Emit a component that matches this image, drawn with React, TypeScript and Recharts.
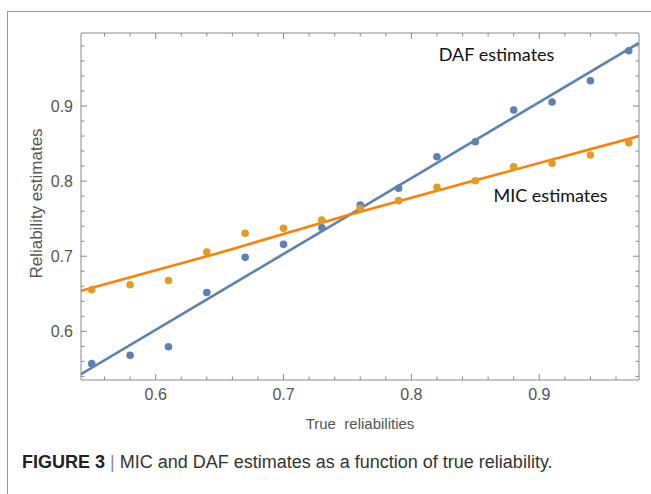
import React from "react";
import {
  ComposedChart,
  Scatter,
  Line,
  XAxis,
  YAxis,
  Label,
  ReferenceDot,
} from "recharts";

// true reliabilities (x) and the two sets of estimates
const trueReliability = [
  0.55, 0.58, 0.61, 0.64, 0.67, 0.7, 0.73, 0.76, 0.79, 0.82, 0.85, 0.88, 0.91,
  0.94, 0.97,
];
const dafEstimates = [
  0.557, 0.568, 0.5795, 0.6517, 0.6985, 0.7158, 0.738, 0.7682, 0.7904, 0.8325,
  0.8525, 0.8947, 0.9053, 0.9337, 0.9736,
];
const micEstimates = [
  0.6553, 0.662, 0.6677, 0.7054, 0.7305, 0.7371, 0.7482, 0.7638, 0.774, 0.7918,
  0.8005, 0.8192, 0.8237, 0.8348, 0.8511,
];

// fitted lines, read at a few x positions across the frame
const fitX = [0.5416, 0.65, 0.75, 0.85, 0.978];
const dafFit = [0.543, 0.6525, 0.7535, 0.8545, 0.984];
const micFit = [0.654, 0.7046, 0.7545, 0.801, 0.86];

const xTicks = [
  0.56, 0.58, 0.6, 0.62, 0.64, 0.66, 0.68, 0.7, 0.72, 0.74, 0.76, 0.78, 0.8,
  0.82, 0.84, 0.86, 0.88, 0.9, 0.92, 0.94, 0.96,
];
const yTicks = [
  0.54, 0.56, 0.58, 0.6, 0.62, 0.64, 0.66, 0.68, 0.7, 0.72, 0.74, 0.76, 0.78,
  0.8, 0.82, 0.84, 0.86, 0.88, 0.9, 0.92, 0.94, 0.96, 0.98,
];
const majorTicks = [0.6, 0.7, 0.8, 0.9];

const X_DOMAIN: [number, number] = [0.5416, 0.978];
const Y_DOMAIN: [number, number] = [0.5352, 0.9972];

const BLUE = "#5e81b5";
const ORANGE_PT = "#e19c24";
const ORANGE_LINE = "#ff8000";
const FRAME = "#8a8a8a";
const TICK_TEXT = "#555";
const TICK_FONT = "'Liberation Sans', Arial, sans-serif";

const dafPoints = trueReliability.map((x, i) => ({ x, y: dafEstimates[i] }));
const micPoints = trueReliability.map((x, i) => ({ x, y: micEstimates[i] }));
const dafLine = fitX.map((x, i) => ({ x, y: dafFit[i] }));
const micLine = fitX.map((x, i) => ({ x, y: micFit[i] }));

const isMajor = (v: number) => majorTicks.some((m) => Math.abs(m - v) < 1e-9);
const tickLen = (v: number) => (isMajor(v) ? 6 : 3.5);

const BottomTick = ({ x, y, payload }: any) => (
  <g>
    <line x1={x} x2={x} y1={y} y2={y - tickLen(payload.value)} stroke={FRAME} />
    {isMajor(payload.value) && (
      <text
        x={x}
        y={y + 20}
        textAnchor="middle"
        fill={TICK_TEXT}
        fontSize={16}
        fontFamily={TICK_FONT}
      >
        {payload.value}
      </text>
    )}
  </g>
);

const TopTick = ({ x, y, payload }: any) => (
  <line x1={x} x2={x} y1={y} y2={y + tickLen(payload.value)} stroke={FRAME} />
);

const LeftTick = ({ x, y, payload }: any) => (
  <g>
    <line x1={x} x2={x + tickLen(payload.value)} y1={y} y2={y} stroke={FRAME} />
    {isMajor(payload.value) && (
      <text
        x={x - 8}
        y={y + 5.5}
        textAnchor="end"
        fill={TICK_TEXT}
        fontSize={16}
        fontFamily={TICK_FONT}
      >
        {payload.value}
      </text>
    )}
  </g>
);

const RightTick = ({ x, y, payload }: any) => (
  <line x1={x} x2={x - tickLen(payload.value)} y1={y} y2={y} stroke={FRAME} />
);

const Dot = (color: string) => (p: any) =>
  <circle cx={p.cx} cy={p.cy} r={3.8} fill={color} />;

export default function App() {
  return (
    <div
      style={{
        position: "absolute",
        left: 0,
        top: 0,
        width: 651,
        height: 494,
        overflow: "hidden",
        background: "#fff",
      }}
    >
      <div
        style={{
          position: "absolute",
          left: 7,
          top: 11,
          width: 700,
          height: 600,
          border: "1px solid #999",
        }}
      />
      <div style={{ position: "absolute", left: 0, top: 0 }}>
        <ComposedChart
          width={651}
          height={440}
          margin={{ top: 32, right: 11, bottom: 10, left: 0 }}
        >
          <XAxis
            type="number"
            dataKey="x"
            domain={X_DOMAIN}
            allowDataOverflow
            ticks={xTicks}
            interval={0}
            tickSize={0}
            tickMargin={0}
            tick={BottomTick}
            tickLine={false}
            axisLine={{ stroke: FRAME }}
            height={50}
          >
            <Label
              value={"True\u00A0 reliabilities"}
              position="insideBottom"
              offset={1}
              fill={TICK_TEXT}
              fontSize={15}
              fontFamily={TICK_FONT}
            />
          </XAxis>
          <XAxis
            xAxisId="top"
            orientation="top"
            type="number"
            dataKey="x"
            domain={X_DOMAIN}
            allowDataOverflow
            ticks={xTicks}
            interval={0}
            tickSize={0}
            tickMargin={0}
            tick={TopTick}
            tickLine={false}
            axisLine={{ stroke: FRAME }}
            height={1}
          />
          <YAxis
            type="number"
            dataKey="y"
            domain={Y_DOMAIN}
            allowDataOverflow
            ticks={yTicks}
            interval={0}
            tickSize={0}
            tickMargin={0}
            tick={LeftTick}
            tickLine={false}
            axisLine={{ stroke: FRAME }}
            width={81}
          >
            <Label
              content={() => (
                <text
                  transform="translate(41.5,203.5) rotate(-90)"
                  textAnchor="middle"
                  fill={TICK_TEXT}
                  fontSize={17}
                  fontFamily={TICK_FONT}
                >
                  Reliability estimates
                </text>
              )}
            />
          </YAxis>
          <YAxis
            yAxisId="right"
            orientation="right"
            type="number"
            dataKey="y"
            domain={Y_DOMAIN}
            allowDataOverflow
            ticks={yTicks}
            interval={0}
            tickSize={0}
            tickMargin={0}
            tick={RightTick}
            tickLine={false}
            axisLine={{ stroke: FRAME }}
            width={1}
          />
          <Scatter
            data={dafPoints}
            dataKey="y"
            shape={Dot(BLUE)}
            isAnimationActive={false}
          />
          <Scatter
            data={micPoints}
            dataKey="y"
            shape={Dot(ORANGE_PT)}
            isAnimationActive={false}
          />
          <Line
            data={dafLine}
            dataKey="y"
            type="linear"
            stroke={BLUE}
            strokeWidth={2.6}
            dot={false}
            activeDot={false}
            isAnimationActive={false}
          />
          <Line
            data={micLine}
            dataKey="y"
            type="linear"
            stroke={ORANGE_LINE}
            strokeWidth={2.6}
            dot={false}
            activeDot={false}
            isAnimationActive={false}
          />
          {/* invisible copy bound to the top/right axes so they draw the frame */}
          <Line
            xAxisId="top"
            yAxisId="right"
            data={dafLine}
            dataKey="y"
            stroke="none"
            dot={false}
            activeDot={false}
            isAnimationActive={false}
          />
          <ReferenceDot
            x={0.8666}
            y={0.9686}
            r={0}
            fill="none"
            stroke="none"
            label={{
              value: "DAF estimates",
              position: "center",
              fill: "#111",
              fontSize: 18,
              fontFamily: "Lato, sans-serif",
            }}
          />
          <ReferenceDot
            x={0.9088}
            y={0.7808}
            r={0}
            fill="none"
            stroke="none"
            label={{
              value: "MIC estimates",
              position: "center",
              fill: "#111",
              fontSize: 18,
              fontFamily: "Lato, sans-serif",
            }}
          />
        </ComposedChart>
      </div>
      <div
        style={{
          position: "absolute",
          left: 22,
          top: 453,
          fontFamily: "'Liberation Sans', Arial, sans-serif",
          fontSize: 18,
          lineHeight: "18px",
          color: "#333",
          whiteSpace: "nowrap",
        }}
      >
        <span style={{ fontWeight: "bold", color: "#222" }}>FIGURE 3</span>
        <span style={{ color: "#888" }}> | </span>MIC and DAF estimates as a
        function of true reliability.
      </div>
    </div>
  );
}
